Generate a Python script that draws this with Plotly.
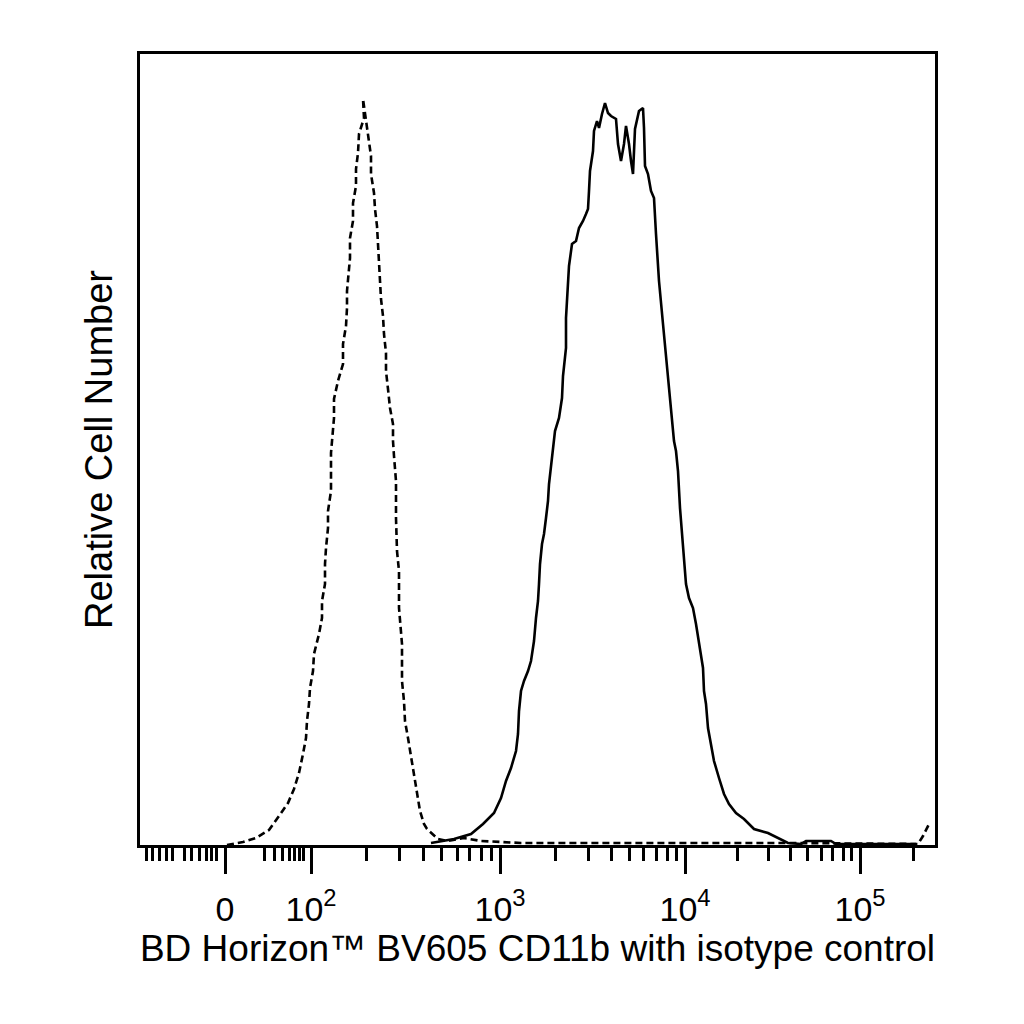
import numpy as np
import plotly.graph_objects as go

# Histogram outlines.
# x: display channel on the biexponential scale (0 .. 795 across the axis)
# y: relative cell count
ISO_X = [87, 103, 116, 129, 139, 148, 154, 159, 163, 166, 167, 169, 170, 173, 174, 179,
         182, 182, 185, 185, 186, 188, 188, 191, 191, 194, 194, 198, 203, 203, 206, 207,
         207, 210, 210, 213, 213, 216, 216, 218, 219, 224, 223, 228, 231, 231, 234, 235,
         237, 238, 239, 240, 241, 243, 244, 246, 246, 248, 250, 253, 253, 254, 256, 256,
         257, 259, 259, 262, 262, 264, 265, 268, 271, 274, 277, 280, 284, 287, 298, 308,
         324, 341, 381, 500, 650, 778, 783, 789]
ISO_Y = [0, 3, 7, 15, 29, 42, 56, 72, 91, 107, 124, 141, 157, 174, 191, 211,
         227, 244, 261, 281, 297, 317, 334, 354, 392, 427, 446, 464, 481, 501, 519, 537,
         554, 587, 607, 624, 642, 659, 676, 692, 711, 727, 746, 709, 689, 671, 652, 636,
         619, 601, 582, 562, 546, 529, 511, 492, 474, 456, 437, 421, 404, 389, 364, 327,
         294, 274, 237, 201, 164, 144, 124, 107, 89, 71, 52, 34, 21, 16, 6, 4,
         7, 4, 2, 2, 2, 1, 9, 21]

CD11B_X = [291, 301, 314, 331, 343, 354, 361, 366, 371, 376, 378, 379, 381, 384, 388, 391,
           394, 396, 398, 399, 400, 402, 404, 406, 408, 409, 411, 413, 415, 419, 422, 423,
           426, 426, 428, 429, 432, 436, 439, 443, 446, 448, 449, 450, 453, 454, 457, 459,
           462, 465, 468, 471, 476, 478, 481, 484, 486, 489, 491, 493, 495, 499, 503, 504,
           505, 508, 511, 514, 516, 519, 523, 526, 528, 531, 534, 536, 538, 540, 543, 546,
           549, 553, 556, 559, 563, 564, 566, 568, 571, 574, 579, 584, 589, 596, 604, 614,
           628, 638, 648, 661, 666, 691, 696, 776]
CD11B_Y = [2, 4, 6, 11, 21, 32, 47, 64, 77, 94, 111, 134, 154, 164, 174, 184,
           204, 227, 244, 261, 281, 301, 311, 327, 344, 361, 377, 394, 414, 427, 447, 469,
           497, 527, 557, 579, 601, 604, 617, 624, 631, 636, 654, 674, 694, 714, 724, 717,
           731, 742, 732, 729, 726, 701, 684, 701, 719, 701, 684, 671, 716, 734, 737, 717,
           679, 671, 654, 647, 611, 564, 521, 491, 471, 439, 404, 394, 374, 337, 294, 261,
           247, 237, 221, 201, 177, 154, 141, 117, 101, 84, 67, 51, 41, 32, 26, 16,
           12, 7, 2, 1, 4, 4, 1, 1]

# scale anchors: fluorescence value -> display channel
SCALE_VALUES = [-1000, -100, 0, 100, 1000, 10000, 100000, 262144]
SCALE_CHANNELS = [6, 44, 85, 171, 360, 545, 720, 795]

MAJOR_VALUES = [0, 100, 1000, 10000, 100000]
MAJOR_LABELS = ["0", "10<sup>2</sup>", "10<sup>3</sup>", "10<sup>4</sup>", "10<sup>5</sup>"]

# unlabelled ticks
NEG_MINOR = [-1000, -700, -450, -300, -200, -100, -60, -35, -20, -12, -6]
LOW_MINOR = [20, 30, 40, 50, 60, 70, 80]
DECADE_MINOR = [m * 10 ** k for k in (2, 3, 4) for m in range(2, 10)] + [200000]


def pseudo_log(v):
    v = np.asarray(v, dtype=float)
    return np.sign(v) * np.log10(1 + np.abs(v) / 10)


def to_channel(v):
    return np.interp(pseudo_log(v), pseudo_log(SCALE_VALUES), SCALE_CHANNELS)


minor_values = NEG_MINOR + LOW_MINOR + DECADE_MINOR

FONT = "Liberation Sans, Arial, sans-serif"

fig = go.Figure()
fig.add_trace(go.Scatter(
    x=ISO_X, y=ISO_Y, mode="lines", name="Isotype control",
    line=dict(color="black", width=2.6, dash="7px,4px"),
))
fig.add_trace(go.Scatter(
    x=CD11B_X, y=CD11B_Y, mode="lines", name="CD11b",
    line=dict(color="black", width=2.6),
))

fig.update_layout(
    width=1024, height=1024,
    margin=dict(l=132, r=97, t=46, b=187),
    paper_bgcolor="white", plot_bgcolor="white",
    showlegend=False,
    font=dict(family=FONT, color="black", size=34),
)
fig.update_xaxes(
    range=[0, 795], showgrid=False, zeroline=False,
    showline=True, mirror=True, linecolor="black", linewidth=2.5,
    ticks="outside", ticklen=26, tickwidth=2.5, tickcolor="black",
    tickmode="array", tickvals=to_channel(MAJOR_VALUES).tolist(), ticktext=MAJOR_LABELS,
    tickfont=dict(family=FONT, size=34, color="black"),
    ticklabelstandoff=6,
    minor=dict(tickmode="array", tickvals=to_channel(minor_values).tolist(),
               ticks="outside", ticklen=13, tickwidth=2.5, tickcolor="black", showgrid=False),
    title=dict(text="BD Horizon™ BV605 CD11b with isotype control",
               font=dict(family=FONT, size=37, color="black"), standoff=1),
)
fig.update_yaxes(
    range=[0, 791], showgrid=False, zeroline=False,
    showline=True, mirror=True, linecolor="black", linewidth=2.5,
    showticklabels=False, ticks="",
    title=dict(text="Relative Cell Number",
               font=dict(family=FONT, size=38, color="black"), standoff=13),
)

fig.write_html("out.html")
